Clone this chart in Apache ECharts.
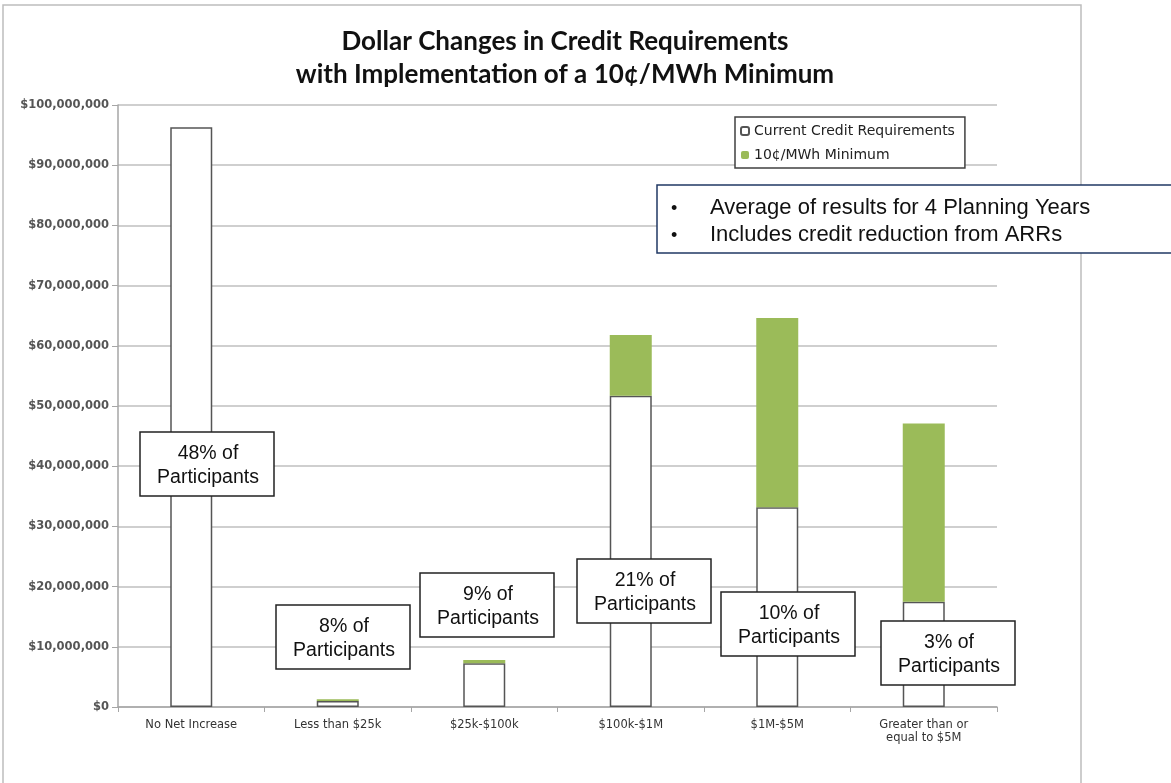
<!DOCTYPE html>
<html>
<head>
<meta charset="utf-8">
<title>Credit Requirements</title>
<script src="https://cdn.jsdelivr.net/npm/echarts@6/dist/echarts.min.js"></script>
<style>
    html, body { margin: 0; padding: 0; background: #fff; }
    #main { width: 1171px; height: 783px; }
</style>
</head>
<body>
<div id="main"></div>
<script>
'use strict';

// 数据
var categories = ['No Net Increase', 'Less than $25k', '$25k-$100k', '$100k-$1M', '$1M-$5M', 'Greater than or\nequal to $5M'];
var currentCredit = [96300000, 1000000, 7250000, 51700000, 33200000, 17500000];
var minimumAdd = [0, 300000, 550000, 10100000, 31400000, 29600000];
var participantShare = ['48%', '8%', '9%', '21%', '10%', '3%'];
// 标注框位置
var shareBoxes = [[140, 432], [276, 605], [420, 573], [577, 559], [721, 592], [881, 621]];

var myChart = echarts.init(document.getElementById('main'));

function money(v) {
    return '$' + v.toString().replace(/\B(?=(\d{3})+(?!\d))/g, ',');
}

var graphics = [
    // 外框
    {type: 'rect', shape: {x: 3, y: 5, width: 1078, height: 800}, style: {fill: null, stroke: '#bdbdbd', lineWidth: 1.5}, z: 0},
    // 说明框
    {type: 'rect', shape: {x: 657, y: 185, width: 520, height: 68}, style: {fill: '#fff', stroke: '#203864', lineWidth: 1.5}, z: 10},
    {type: 'text', x: 671, y: 196, style: {text: '•\n•', font: '18px "Liberation Sans"', fill: '#111', lineHeight: 27}, z: 11},
    {type: 'text', x: 710, y: 194, style: {text: 'Average of results for 4 Planning Years\nIncludes credit reduction from ARRs', font: '22px "Liberation Sans"', fill: '#111', lineHeight: 27}, z: 11}
];

for (let i = 0; i < shareBoxes.length; i++) {
    graphics.push({
        type: 'rect', shape: {x: shareBoxes[i][0], y: shareBoxes[i][1], width: 134, height: 64},
        style: {fill: '#fff', stroke: '#222', lineWidth: 1.5}, z: 10
    });
    graphics.push({
        type: 'text', x: shareBoxes[i][0] + 68, y: shareBoxes[i][1] + 34,
        style: {text: participantShare[i] + ' of\nParticipants', font: '19.5px "Liberation Sans"', fill: '#111',
            align: 'center', verticalAlign: 'middle', lineHeight: 24},
        z: 11
    });
}

let option = {
    animation: false,
    backgroundColor: '#fff',
    title: {
        text: 'Dollar Changes in Credit Requirements\nwith Implementation of a 10¢/MWh Minimum',
        left: 560,
        top: 20,
        textAlign: 'center',
        textStyle: {fontFamily: 'Lato', fontWeight: 'bold', fontSize: 26, color: '#111', lineHeight: 33}
    },
    legend: {
        orient: 'vertical',
        left: 735,
        top: 117,
        itemWidth: 8,
        itemHeight: 8,
        itemGap: 10,
        padding: [7, 10, 6, 5],
        borderColor: '#404040',
        borderWidth: 1.5,
        backgroundColor: '#fff',
        textStyle: {fontFamily: 'DejaVu Sans', fontSize: 14, color: '#222'},
        data: ['Current Credit Requirements', '10¢/MWh Minimum']
    },
    grid: {left: 118, right: 174, top: 105, bottom: 76},
    xAxis: {
        type: 'category',
        data: categories,
        axisLine: {lineStyle: {color: '#a6a6a6', width: 1.5}},
        axisTick: {show: true, length: 5, lineStyle: {color: '#a6a6a6'}},
        axisLabel: {fontFamily: 'DejaVu Sans', fontSize: 11.5, color: '#333', margin: 12, lineHeight: 13}
    },
    yAxis: {
        type: 'value',
        min: 0,
        max: 100000000,
        interval: 10000000,
        axisLine: {show: true, lineStyle: {color: '#a6a6a6', width: 1.5}},
        axisTick: {show: true, length: 6, lineStyle: {color: '#a6a6a6'}},
        splitLine: {lineStyle: {color: '#bfbfbf', width: 1.5}},
        axisLabel: {fontFamily: 'DejaVu Sans', fontSize: 11.5, fontWeight: 'bold', color: '#555', margin: 9, formatter: money}
    },
    series: [
        {
            name: 'Current Credit Requirements',
            type: 'bar',
            stack: 'credit',
            barWidth: 42,
            data: currentCredit,
            itemStyle: {color: '#fff', borderColor: '#555', borderWidth: 1.5}
        },
        {
            name: '10¢/MWh Minimum',
            type: 'bar',
            stack: 'credit',
            barWidth: 42,
            data: minimumAdd,
            itemStyle: {color: '#9bbb59'}
        }
    ],
    graphic: graphics
};

myChart.setOption(option);
</script>
</body>
</html>
